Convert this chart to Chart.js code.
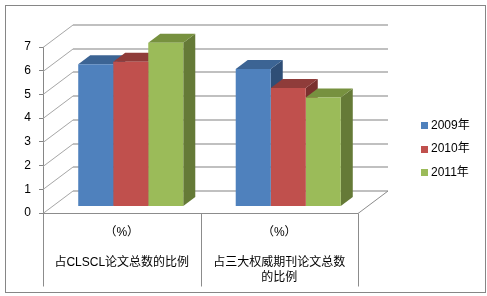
<!DOCTYPE html>
<html><head><meta charset="utf-8">
<script src="https://cdn.jsdelivr.net/npm/chart.js@4/dist/chart.umd.min.js"></script>
<style>html,body{margin:0;padding:0;background:#fff}#wrap{width:487px;height:296px;position:relative}</style>
</head><body><div id="wrap"><canvas id="c" width="487" height="296"></canvas></div>
<script>
const categories = [["（%）", "", "占CLSCL论文总数的比例"], ["（%）", "", "占三大权威期刊论文总数", "的比例"]];
const seriesNames = ["2009年", "2010年", "2011年"];
const values2009 = [6.0, 5.8];
const values2010 = [6.1, 5.0];
const values2011 = [6.9, 4.6];
const yTicks = [0, 1, 2, 3, 4, 5, 6, 7];

const frontColors = ["#4F81BD", "#C0504D", "#9BBB59"];
const topColors = ["#3C6494", "#8F3C3A", "#77913F"];
const sideColors = ["#2F4E76", "#7A302E", "#657A37"];
const FONT = '"Liberation Sans", "Noto Sans CJK SC", sans-serif';

const WALL = { dx: 30, dy: -22.5 };
const SHIFT = { dx: 9, dy: -6.5 };
const BDEPTH = { dx: 12, dy: -9 };

const threeD = {
  id: 'threeD',
  beforeDraw(chart) {
    const ctx = chart.ctx;
    ctx.save();
    ctx.fillStyle = '#fff';
    ctx.fillRect(0, 0, chart.width, chart.height);
    ctx.strokeStyle = '#868686';
    ctx.lineWidth = 1;
    ctx.strokeRect(5.5, 5.5, 480, 287);
    ctx.restore();
  },
  beforeDatasetsDraw(chart) {
    const ctx = chart.ctx, ca = chart.chartArea;
    const ys = chart.scales.y, xs = chart.scales.x;
    ctx.save();
    yTicks.forEach(v => {
      const yp = Math.round(ys.getPixelForValue(v)) + 0.5;
      ctx.strokeStyle = '#A6A6A6';
      ctx.lineWidth = 1;
      ctx.beginPath();
      ctx.moveTo(ca.left, yp);
      ctx.lineTo(ca.left + WALL.dx, yp + WALL.dy);
      ctx.stroke();
      ctx.strokeStyle = '#C0C0C0';
      ctx.lineWidth = 2;
      ctx.beginPath();
      ctx.moveTo(ca.left + WALL.dx, yp + WALL.dy);
      ctx.lineTo(ca.right + WALL.dx, yp + WALL.dy);
      ctx.stroke();
    });
    const by = Math.round(ca.bottom) + 0.5;
    ctx.strokeStyle = '#8C8C8C';
    ctx.lineWidth = 1;
    ctx.beginPath();
    ctx.moveTo(ca.left, by);
    ctx.lineTo(ca.right, by);
    ctx.lineTo(ca.right + WALL.dx, by + WALL.dy);
    ctx.stroke();
    const n = categories.length;
    const bounds = [ca.left];
    for (let i = 1; i < n; i++) bounds.push((xs.getPixelForValue(i - 1) + xs.getPixelForValue(i)) / 2);
    bounds.push(ca.right);
    bounds.forEach(b => {
      const bx = Math.round(b) + 0.5;
      ctx.beginPath();
      ctx.moveTo(bx, by);
      ctx.lineTo(bx, by + 73);
      ctx.stroke();
    });
    ctx.restore();

    ctx.save();
    ctx.translate(SHIFT.dx, SHIFT.dy);
    chart.data.datasets.forEach((ds, d) => {
      const meta = chart.getDatasetMeta(d);
      meta.data.forEach(bar => {
        const p = bar.getProps(['x', 'y', 'base', 'width'], true);
        const l = p.x - p.width / 2, r = p.x + p.width / 2;
        ctx.fillStyle = sideColors[d];
        ctx.beginPath();
        ctx.moveTo(r, p.y);
        ctx.lineTo(r + BDEPTH.dx, p.y + BDEPTH.dy);
        ctx.lineTo(r + BDEPTH.dx, p.base + BDEPTH.dy);
        ctx.lineTo(r, p.base);
        ctx.closePath();
        ctx.fill();
        ctx.fillStyle = topColors[d];
        ctx.beginPath();
        ctx.moveTo(l, p.y);
        ctx.lineTo(r, p.y);
        ctx.lineTo(r + BDEPTH.dx, p.y + BDEPTH.dy);
        ctx.lineTo(l + BDEPTH.dx, p.y + BDEPTH.dy);
        ctx.closePath();
        ctx.fill();
      });
    });
    ctx.restore();
    ctx.save();
    ctx.translate(SHIFT.dx, SHIFT.dy);
  },
  afterDatasetsDraw(chart) {
    chart.ctx.restore();
  },
  afterDraw(chart) {
    const ctx = chart.ctx;
    ctx.save();
    ctx.font = '12px ' + FONT;
    ctx.textBaseline = 'middle';
    ctx.textAlign = 'left';
    chart.data.datasets.forEach((ds, i) => {
      const cy = 125 + i * 23.5;
      ctx.fillStyle = ds.backgroundColor;
      ctx.fillRect(421, Math.round(cy) - 3, 7, 7);
      ctx.fillStyle = '#000';
      ctx.fillText(ds.label, 431, cy + 0.5);
    });
    ctx.restore();
  }
};

new Chart(document.getElementById('c'), {
  type: 'bar',
  data: {
    labels: categories,
    datasets: [
      { label: seriesNames[0], data: values2009, backgroundColor: frontColors[0] },
      { label: seriesNames[1], data: values2010, backgroundColor: frontColors[1] },
      { label: seriesNames[2], data: values2011, backgroundColor: frontColors[2] }
    ]
  },
  options: {
    responsive: false,
    animation: false,
    devicePixelRatio: 1,
    layout: { padding: { left: 0, right: 129, top: 47, bottom: 0 } },
    datasets: { bar: { categoryPercentage: 0.667, barPercentage: 1.0, clip: false, borderWidth: 0 } },
    plugins: { legend: { display: false }, tooltip: { enabled: false } },
    scales: {
      x: {
        grid: { display: false, drawTicks: false },
        border: { display: false },
        ticks: { color: '#000', font: { family: FONT, size: 12, lineHeight: 1.25 }, padding: 12, maxRotation: 0, autoSkip: false },
        afterFit(s) { s.height = 83; }
      },
      y: {
        min: 0, max: 7,
        afterBuildTicks(s) { s.ticks = yTicks.map(v => ({ value: v })); },
        grid: { drawOnChartArea: false, drawTicks: true, tickLength: 4, color: '#868686' },
        border: { display: true, color: '#868686' },
        ticks: { color: '#000', font: { family: FONT, size: 12 }, padding: 8 },
        afterFit(s) { s.width = 43; }
      }
    }
  },
  plugins: [threeD]
});
</script>
</body></html>
